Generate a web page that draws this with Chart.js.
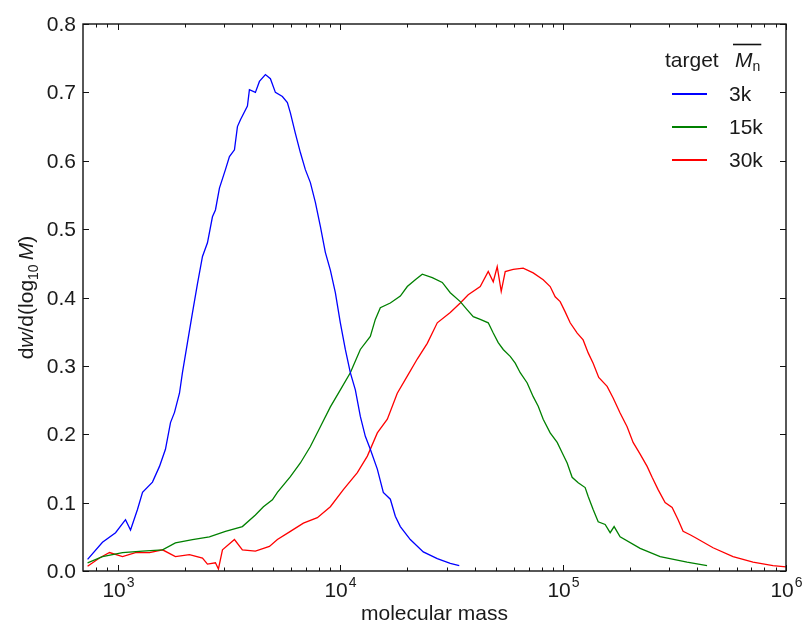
<!DOCTYPE html>
<html>
<head>
<meta charset="utf-8">
<script src="https://cdn.jsdelivr.net/npm/chart.js@4.4.1/dist/chart.umd.min.js"></script>
<style>
  html, body { margin: 0; padding: 0; background: #ffffff; }
  #wrap { width: 806px; height: 626px; }
</style>
</head>
<body>
<div id="wrap"><canvas id="c" width="806" height="626"></canvas></div>
<script>
// ---- data (molecular mass, dw/d(log10 M)) ----
const seriesNames = ['3k', '15k', '30k'];

const massBlue = [734, 856, 980, 1086, 1144, 1229, 1295, 1435, 1543, 1641, 1729, 1802, 1897, 1956, 2060, 2170, 2284, 2406, 2533, 2667, 2751, 2867, 3050, 3179, 3348, 3453, 3562, 3828, 3908, 4157, 4334, 4610, 4855, 5111, 5495, 5785, 5967, 6283, 6616, 6966, 7337, 7726, 8135, 8564, 9020, 9497, 10000, 10529, 11086, 11677, 12294, 12945, 13630, 14654, 15589, 16762, 17648, 18587, 20604, 23564, 27227, 31137, 34170];
const yBlue = [0.017, 0.042, 0.056, 0.075, 0.060, 0.090, 0.115, 0.130, 0.153, 0.178, 0.217, 0.232, 0.260, 0.290, 0.334, 0.378, 0.420, 0.460, 0.480, 0.518, 0.528, 0.560, 0.587, 0.606, 0.616, 0.650, 0.660, 0.680, 0.704, 0.700, 0.716, 0.726, 0.720, 0.700, 0.694, 0.685, 0.670, 0.640, 0.612, 0.587, 0.568, 0.539, 0.504, 0.466, 0.440, 0.407, 0.363, 0.324, 0.290, 0.265, 0.226, 0.197, 0.178, 0.149, 0.115, 0.105, 0.080, 0.065, 0.046, 0.028, 0.018, 0.011, 0.008];

const massGreen = [734, 856, 1053, 1295, 1592, 1819, 2170, 2584, 3050, 3634, 4157, 4516, 4956, 5218, 5967, 6616, 7337, 8135, 9020, 10000, 11086, 12294, 13630, 14355, 15115, 16762, 18587, 19971, 21695, 23318, 25856, 28668, 31137, 34525, 37113, 39488, 42443, 46103, 48546, 51110, 53821, 57850, 60930, 64150, 68960, 73370, 77270, 81350, 87440, 94000, 98970, 104200, 109700, 116800, 125500, 129500, 136300, 143600, 154300, 162500, 169300, 180100, 221500, 272300, 359700, 442300];
const yGreen = [0.012, 0.021, 0.027, 0.029, 0.031, 0.041, 0.046, 0.050, 0.058, 0.065, 0.082, 0.094, 0.104, 0.115, 0.138, 0.158, 0.182, 0.211, 0.240, 0.265, 0.290, 0.324, 0.343, 0.368, 0.385, 0.392, 0.402, 0.416, 0.426, 0.434, 0.429, 0.422, 0.407, 0.394, 0.382, 0.372, 0.368, 0.363, 0.348, 0.334, 0.324, 0.314, 0.304, 0.290, 0.275, 0.255, 0.241, 0.222, 0.202, 0.188, 0.173, 0.158, 0.137, 0.129, 0.122, 0.109, 0.090, 0.072, 0.068, 0.056, 0.065, 0.050, 0.033, 0.021, 0.013, 0.008];

const massRed = [734, 830, 921, 1053, 1204, 1392, 1592, 1819, 2103, 2406, 2533, 2751, 2837, 2958, 3348, 3634, 4157, 4805, 5218, 5967, 6826, 7886, 9020, 10316, 11920, 13220, 14654, 16250, 18010, 19971, 22140, 24550, 27227, 31137, 34525, 37490, 42443, 46103, 48546, 50580, 52720, 54950, 59670, 66160, 73370, 81350, 87440, 92070, 96940, 102100, 107500, 115600, 122900, 129500, 136300, 144400, 157500, 167600, 180100, 193600, 206000, 221500, 238100, 250700, 266700, 286700, 308300, 327900, 345300, 371100, 390800, 470600, 578500, 711200, 874500, 1000000];
const yRed = [0.007, 0.019, 0.027, 0.021, 0.027, 0.027, 0.031, 0.021, 0.024, 0.019, 0.010, 0.012, 0.003, 0.031, 0.046, 0.031, 0.029, 0.036, 0.046, 0.058, 0.070, 0.078, 0.094, 0.119, 0.144, 0.168, 0.202, 0.222, 0.260, 0.285, 0.310, 0.333, 0.363, 0.378, 0.392, 0.404, 0.416, 0.438, 0.423, 0.445, 0.409, 0.438, 0.441, 0.443, 0.436, 0.426, 0.416, 0.401, 0.394, 0.379, 0.363, 0.348, 0.338, 0.319, 0.304, 0.283, 0.270, 0.253, 0.231, 0.211, 0.188, 0.171, 0.153, 0.137, 0.119, 0.100, 0.093, 0.075, 0.058, 0.053, 0.049, 0.034, 0.021, 0.013, 0.008, 0.006];

const yTickValues = [0.0, 0.1, 0.2, 0.3, 0.4, 0.5, 0.6, 0.7, 0.8];
const yTickLabels = ['0.0', '0.1', '0.2', '0.3', '0.4', '0.5', '0.6', '0.7', '0.8'];
const xMajorValues = [1e3, 1e4, 1e5, 1e6];
const xMajorExponents = ['3', '4', '5', '6'];
const xRange = [700, 1e6];
const yRange = [0, 0.8];

const colors = ['#0000ff', '#008000', '#ff0000'];
const FONT = '"Liberation Sans", Arial, sans-serif';
const TXT = '#1a1a1a';

function zip(xs, ys) { return xs.map((v, i) => ({ x: v, y: ys[i] })); }

const datasets = [
  zip(massBlue, yBlue), zip(massGreen, yGreen), zip(massRed, yRed)
].map((pts, i) => ({
  label: seriesNames[i],
  data: pts,
  borderColor: colors[i],
  backgroundColor: colors[i],
  borderWidth: 1.3,
  pointRadius: 0,
  showLine: true,
  tension: 0,
  fill: false
}));

const framePlugin = {
  id: 'framePlugin',
  afterDraw(chart) {
    const { ctx, chartArea, scales } = chart;
    const { left, right, top, bottom } = chartArea;
    const x = scales.x, y = scales.y;
    ctx.save();
    ctx.strokeStyle = '#111';
    ctx.lineWidth = 1.4;
    ctx.strokeRect(left, top, right - left, bottom - top);

    // y ticks (inward, both sides)
    ctx.lineWidth = 1;
    ctx.fillStyle = TXT;
    ctx.font = '21px ' + FONT;
    ctx.textAlign = 'right';
    ctx.textBaseline = 'middle';
    yTickValues.forEach((v, i) => {
      const py = Math.round(y.getPixelForValue(v)) + 0.5;
      ctx.beginPath();
      ctx.moveTo(left, py); ctx.lineTo(left + 6, py);
      ctx.moveTo(right, py); ctx.lineTo(right - 6, py);
      ctx.stroke();
      ctx.fillText(yTickLabels[i], left - 7, py + 1);
    });

    // x minor ticks
    const minors = [];
    for (let e = 2; e <= 5; e++) {
      for (let m = 2; m <= 9; m++) {
        const v = m * Math.pow(10, e);
        if (v > xRange[0] && v < xRange[1]) minors.push(v);
      }
    }
    ctx.beginPath();
    minors.forEach(v => {
      const px = Math.round(x.getPixelForValue(v)) + 0.5;
      ctx.moveTo(px, bottom); ctx.lineTo(px, bottom - 3.5);
      ctx.moveTo(px, top); ctx.lineTo(px, top + 3.5);
    });
    ctx.stroke();
    // x major ticks + labels
    xMajorValues.forEach((v, i) => {
      const px = Math.round(x.getPixelForValue(v)) + 0.5;
      ctx.beginPath();
      ctx.moveTo(px, bottom); ctx.lineTo(px, bottom - 6);
      ctx.moveTo(px, top); ctx.lineTo(px, top + 6);
      ctx.stroke();
      ctx.font = '21px ' + FONT;
      const wBase = ctx.measureText('10').width;
      ctx.font = '14px ' + FONT;
      const wExp = ctx.measureText(xMajorExponents[i]).width;
      const total = wBase + 1 + wExp;
      const x0 = px - total / 2;
      ctx.textAlign = 'left';
      ctx.textBaseline = 'alphabetic';
      ctx.font = '21px ' + FONT;
      ctx.fillText('10', x0, bottom + 26);
      ctx.font = '14px ' + FONT;
      ctx.fillText(xMajorExponents[i], x0 + wBase + 1, bottom + 16);
    });

    // x title
    ctx.font = '21px ' + FONT;
    ctx.textAlign = 'center';
    ctx.textBaseline = 'alphabetic';
    ctx.fillText('molecular mass', (left + right) / 2, bottom + 49);

    // y title (rotated), built from pieces
    ctx.save();
    ctx.translate(33, (top + bottom) / 2);
    ctx.rotate(-Math.PI / 2);
    const pieces = [
      { t: 'd', f: '21px ' + FONT, dy: 0 },
      { t: 'w', f: 'italic 21px ' + FONT, dy: 0 },
      { t: '/d(log', f: '21px ' + FONT, dy: 0 },
      { t: '10', f: '14px ' + FONT, dy: 5 },
      { t: '\u2009', f: '21px ' + FONT, dy: 0 },
      { t: 'M', f: 'italic 21px ' + FONT, dy: 0 },
      { t: ')', f: '21px ' + FONT, dy: 0 }
    ];
    let tw = 0;
    pieces.forEach(p => { ctx.font = p.f; p.w = ctx.measureText(p.t).width; tw += p.w; });
    let cx = -tw / 2;
    ctx.textAlign = 'left';
    ctx.textBaseline = 'alphabetic';
    pieces.forEach(p => { ctx.font = p.f; ctx.fillText(p.t, cx, p.dy); cx += p.w; });
    ctx.restore();

    // legend
    ctx.textAlign = 'left';
    ctx.textBaseline = 'alphabetic';
    ctx.font = '21px ' + FONT;
    ctx.fillText('target', 665, 67);
    ctx.font = 'italic 21px ' + FONT;
    const mX = 735;
    ctx.fillText('M', mX, 67);
    const mW = ctx.measureText('M').width;
    ctx.font = '14px ' + FONT;
    ctx.fillText('n', mX + mW, 71);
    const nW = ctx.measureText('n').width;
    ctx.lineWidth = 1.6;
    ctx.strokeStyle = '#111';
    ctx.beginPath();
    ctx.moveTo(mX - 2, 44.5); ctx.lineTo(mX + mW + nW + 1, 44.5);
    ctx.stroke();
    const rows = [94, 127, 160];
    seriesNames.forEach((name, i) => {
      ctx.strokeStyle = colors[i];
      ctx.lineWidth = 2;
      ctx.beginPath();
      ctx.moveTo(672, rows[i]); ctx.lineTo(707, rows[i]);
      ctx.stroke();
      ctx.font = '21px ' + FONT;
      ctx.fillStyle = TXT;
      ctx.textBaseline = 'middle';
      ctx.fillText(name, 729, rows[i] + 1);
    });
    ctx.restore();
  }
};

new Chart(document.getElementById('c'), {
  type: 'scatter',
  data: { datasets },
  options: {
    responsive: false,
    animation: false,
    devicePixelRatio: 1,
    layout: { padding: { left: 83, right: 20, top: 24, bottom: 55 } },
    plugins: { legend: { display: false }, tooltip: { enabled: false } },
    scales: {
      x: { type: 'logarithmic', min: xRange[0], max: xRange[1], display: false },
      y: { type: 'linear', min: yRange[0], max: yRange[1], display: false }
    }
  },
  plugins: [framePlugin]
});
</script>
</body>
</html>
